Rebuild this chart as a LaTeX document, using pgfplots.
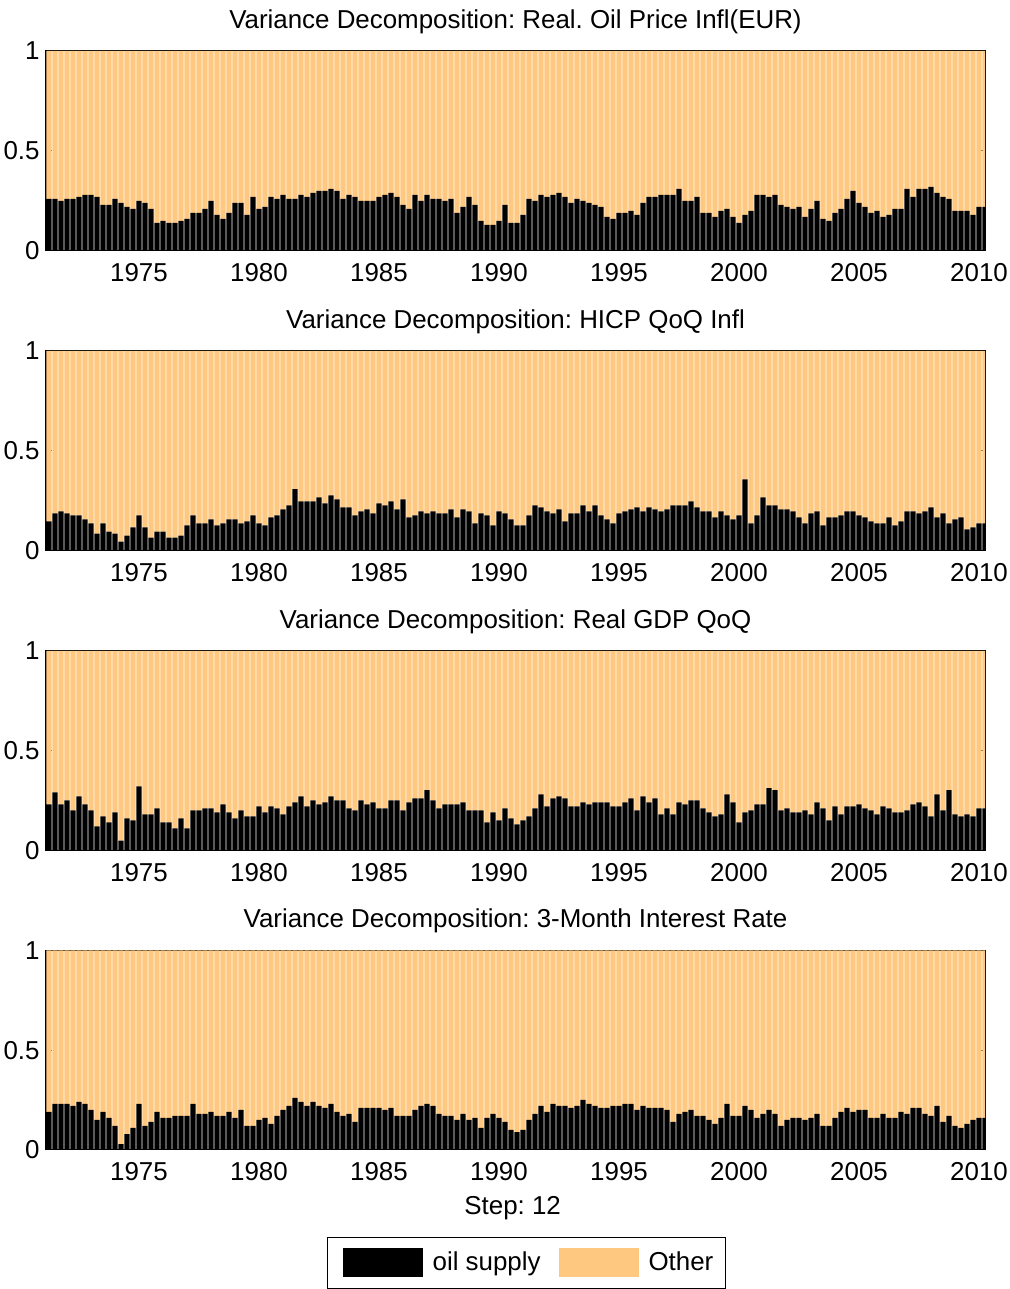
\documentclass[border=0pt]{standalone}
\usepackage{fontspec}
\setmainfont{Liberation Sans}
\usepackage{pgfplots}
\pgfplotsset{compat=1.18}
\usepackage{pgfplotstable}
\definecolor{other}{RGB}{255,200,128}
\frenchspacing

\pgfplotstableread{
x a b c d
1971.25 0.26 0.146 0.231 0.191
1971.50 0.26 0.186 0.291 0.231
1971.75 0.25 0.196 0.231 0.231
1972.00 0.26 0.186 0.251 0.231
1972.25 0.26 0.176 0.201 0.221
1972.50 0.27 0.176 0.271 0.241
1972.75 0.28 0.156 0.231 0.231
1973.00 0.28 0.136 0.201 0.201
1973.25 0.27 0.085 0.121 0.151
1973.50 0.23 0.136 0.171 0.191
1973.75 0.23 0.095 0.141 0.161
1974.00 0.26 0.085 0.191 0.121
1974.25 0.24 0.045 0.050 0.030
1974.50 0.22 0.075 0.161 0.080
1974.75 0.21 0.116 0.151 0.111
1975.00 0.25 0.176 0.322 0.231
1975.25 0.24 0.116 0.181 0.121
1975.50 0.21 0.065 0.181 0.141
1975.75 0.14 0.095 0.211 0.191
1976.00 0.15 0.095 0.141 0.161
1976.25 0.14 0.065 0.141 0.161
1976.50 0.14 0.065 0.111 0.171
1976.75 0.15 0.075 0.161 0.171
1977.00 0.16 0.126 0.111 0.171
1977.25 0.19 0.176 0.201 0.231
1977.50 0.19 0.136 0.201 0.181
1977.75 0.21 0.136 0.211 0.181
1978.00 0.25 0.156 0.211 0.191
1978.25 0.18 0.126 0.191 0.171
1978.50 0.16 0.136 0.231 0.171
1978.75 0.19 0.156 0.191 0.191
1979.00 0.24 0.156 0.161 0.161
1979.25 0.24 0.136 0.201 0.201
1979.50 0.18 0.146 0.171 0.121
1979.75 0.27 0.176 0.171 0.121
1980.00 0.21 0.136 0.221 0.151
1980.25 0.22 0.126 0.191 0.161
1980.50 0.27 0.166 0.221 0.131
1980.75 0.26 0.176 0.211 0.171
1981.00 0.28 0.206 0.181 0.201
1981.25 0.26 0.226 0.221 0.221
1981.50 0.26 0.307 0.241 0.261
1981.75 0.28 0.246 0.271 0.241
1982.00 0.27 0.246 0.221 0.221
1982.25 0.29 0.246 0.251 0.241
1982.50 0.30 0.266 0.231 0.221
1982.75 0.30 0.236 0.241 0.211
1983.00 0.31 0.276 0.271 0.231
1983.25 0.30 0.256 0.251 0.191
1983.50 0.26 0.216 0.251 0.171
1983.75 0.28 0.216 0.211 0.181
1984.00 0.27 0.176 0.201 0.141
1984.25 0.25 0.196 0.251 0.211
1984.50 0.25 0.206 0.231 0.211
1984.75 0.25 0.186 0.241 0.211
1985.00 0.27 0.236 0.211 0.211
1985.25 0.28 0.226 0.211 0.201
1985.50 0.29 0.246 0.251 0.211
1985.75 0.27 0.206 0.251 0.171
1986.00 0.23 0.256 0.201 0.171
1986.25 0.21 0.166 0.241 0.171
1986.50 0.28 0.176 0.261 0.201
1986.75 0.25 0.196 0.261 0.221
1987.00 0.28 0.186 0.302 0.231
1987.25 0.26 0.196 0.251 0.221
1987.50 0.26 0.186 0.211 0.181
1987.75 0.25 0.186 0.231 0.171
1988.00 0.26 0.206 0.231 0.171
1988.25 0.19 0.166 0.231 0.151
1988.50 0.22 0.206 0.241 0.181
1988.75 0.27 0.196 0.201 0.151
1989.00 0.23 0.136 0.201 0.161
1989.25 0.15 0.186 0.201 0.111
1989.50 0.13 0.176 0.141 0.161
1989.75 0.13 0.126 0.191 0.181
1990.00 0.15 0.196 0.151 0.161
1990.25 0.23 0.186 0.211 0.141
1990.50 0.14 0.156 0.161 0.101
1990.75 0.14 0.126 0.131 0.090
1991.00 0.18 0.126 0.151 0.101
1991.25 0.26 0.176 0.171 0.151
1991.50 0.25 0.226 0.211 0.181
1991.75 0.28 0.216 0.281 0.221
1992.00 0.27 0.196 0.221 0.191
1992.25 0.28 0.186 0.261 0.231
1992.50 0.29 0.206 0.271 0.221
1992.75 0.27 0.146 0.261 0.221
1993.00 0.24 0.186 0.221 0.211
1993.25 0.26 0.186 0.221 0.221
1993.50 0.25 0.226 0.241 0.251
1993.75 0.24 0.196 0.231 0.231
1994.00 0.23 0.226 0.241 0.221
1994.25 0.22 0.176 0.241 0.211
1994.50 0.17 0.156 0.241 0.211
1994.75 0.16 0.136 0.221 0.221
1995.00 0.19 0.186 0.221 0.221
1995.25 0.19 0.196 0.241 0.231
1995.50 0.20 0.206 0.261 0.231
1995.75 0.18 0.216 0.201 0.201
1996.00 0.24 0.196 0.271 0.221
1996.25 0.27 0.216 0.241 0.211
1996.50 0.27 0.206 0.261 0.211
1996.75 0.28 0.196 0.181 0.211
1997.00 0.28 0.206 0.211 0.201
1997.25 0.28 0.226 0.181 0.141
1997.50 0.31 0.226 0.241 0.181
1997.75 0.25 0.226 0.231 0.191
1998.00 0.25 0.246 0.251 0.201
1998.25 0.27 0.216 0.251 0.171
1998.50 0.19 0.196 0.211 0.171
1998.75 0.19 0.196 0.191 0.151
1999.00 0.17 0.166 0.171 0.131
1999.25 0.20 0.196 0.181 0.161
1999.50 0.21 0.176 0.281 0.231
1999.75 0.17 0.156 0.241 0.171
2000.00 0.14 0.176 0.141 0.171
2000.25 0.18 0.357 0.191 0.221
2000.50 0.20 0.136 0.201 0.201
2000.75 0.28 0.176 0.231 0.161
2001.00 0.28 0.266 0.231 0.181
2001.25 0.27 0.226 0.312 0.201
2001.50 0.28 0.226 0.302 0.181
2001.75 0.23 0.206 0.201 0.121
2002.00 0.22 0.206 0.211 0.151
2002.25 0.21 0.196 0.191 0.161
2002.50 0.22 0.166 0.191 0.161
2002.75 0.17 0.136 0.201 0.151
2003.00 0.21 0.186 0.181 0.161
2003.25 0.25 0.196 0.241 0.181
2003.50 0.16 0.126 0.211 0.121
2003.75 0.15 0.166 0.151 0.121
2004.00 0.19 0.166 0.221 0.161
2004.25 0.21 0.176 0.181 0.191
2004.50 0.26 0.196 0.221 0.211
2004.75 0.30 0.196 0.221 0.191
2005.00 0.24 0.176 0.231 0.201
2005.25 0.22 0.166 0.211 0.201
2005.50 0.19 0.146 0.201 0.161
2005.75 0.20 0.136 0.181 0.161
2006.00 0.17 0.136 0.221 0.181
2006.25 0.18 0.166 0.211 0.161
2006.50 0.21 0.126 0.191 0.161
2006.75 0.21 0.146 0.191 0.191
2007.00 0.31 0.196 0.201 0.181
2007.25 0.27 0.196 0.231 0.211
2007.50 0.31 0.186 0.241 0.211
2007.75 0.31 0.196 0.221 0.181
2008.00 0.32 0.216 0.171 0.171
2008.25 0.29 0.166 0.281 0.221
2008.50 0.27 0.186 0.201 0.141
2008.75 0.26 0.136 0.302 0.171
2009.00 0.20 0.156 0.181 0.121
2009.25 0.20 0.166 0.171 0.111
2009.50 0.20 0.106 0.181 0.131
2009.75 0.18 0.116 0.171 0.151
2010.00 0.22 0.136 0.211 0.161
2010.25 0.22 0.136 0.211 0.161
}\data

\pgfplotsset{
  vd/.style={
    scale only axis, width=469.5pt, height=99.75pt, anchor=south west,
    xmin=1971.125, xmax=2010.25, ymin=0, ymax=1,
    ybar stacked, bar width=0.22,
    xtick={1975,1980,1985,1990,1995,2000,2005,2010},
    xticklabels={1975,1980,1985,1990,1995,2000,2005,2010},
    ytick={0,0.5,1}, yticklabels={0,0.5,1},
    tick align=inside, major tick length=3pt,
    axis line style={black, line width=0.5pt},
    tick style={black, line width=0.5pt},
    /pgf/number format/assume math mode=true,
    xticklabel style={anchor=base, yshift=-15.5pt},
    yticklabel style={anchor=east, inner xsep=3pt},
    every axis title shift=0pt,
    title style={at={(0.5,1)}, anchor=base, yshift=11.25pt, inner sep=0pt},
  },
  oil/.style={fill=black, draw=none},
  oth/.style={fill=other, draw=none},
}

\begin{document}
\begin{tikzpicture}[font=\fontsize{12.95}{15.5}\selectfont]
\useasboundingbox (0,0) rectangle (504.5pt,644.5pt);

\begin{axis}[vd, at={(23pt,519pt)}, height=100pt,
  title={Variance Decomposition: Real. Oil Price Infl(EUR)}]
\addplot[oil] table[x=x, y=a] {\data};
\addplot[oth] table[x=x, y expr=1-\thisrow{a}] {\data};
\end{axis}

\begin{axis}[vd, at={(23pt,369.25pt)},
  title={Variance Decomposition: HICP QoQ Infl}]
\addplot[oil] table[x=x, y=b] {\data};
\addplot[oth] table[x=x, y expr=1-\thisrow{b}] {\data};
\end{axis}

\begin{axis}[vd, at={(23pt,219.25pt)},
  title={Variance Decomposition: Real GDP QoQ}]
\addplot[oil] table[x=x, y=c] {\data};
\addplot[oth] table[x=x, y expr=1-\thisrow{c}] {\data};
\end{axis}

\begin{axis}[vd, at={(23pt,69.5pt)},
  title={Variance Decomposition: 3-Month Interest Rate},
  xlabel={Step: 12},
  xlabel style={at={(0.497,0)}, anchor=base, yshift=-32.5pt, inner sep=0pt},
  legend columns=2,
  legend style={at={(0.5117,-0.565)}, anchor=center, draw=black, line width=0.5pt,
    inner xsep=4pt, inner ysep=5.25pt,
    /tikz/every even column/.append style={column sep=7pt}},
  legend cell align=left]
\addplot[oil, legend image code/.code={\fill[black] (0pt,-7.25pt) rectangle (40pt,7.25pt); \path (-3.5pt,0pt) (43pt,0pt);}] table[x=x, y=d] {\data};
\addlegendentry{oil supply}
\addplot[oth, legend image code/.code={\fill[other] (0pt,-7.25pt) rectangle (40pt,7.25pt); \path (43pt,0pt);}] table[x=x, y expr=1-\thisrow{d}] {\data};
\addlegendentry{Other}
\end{axis}
\end{tikzpicture}
\end{document}
